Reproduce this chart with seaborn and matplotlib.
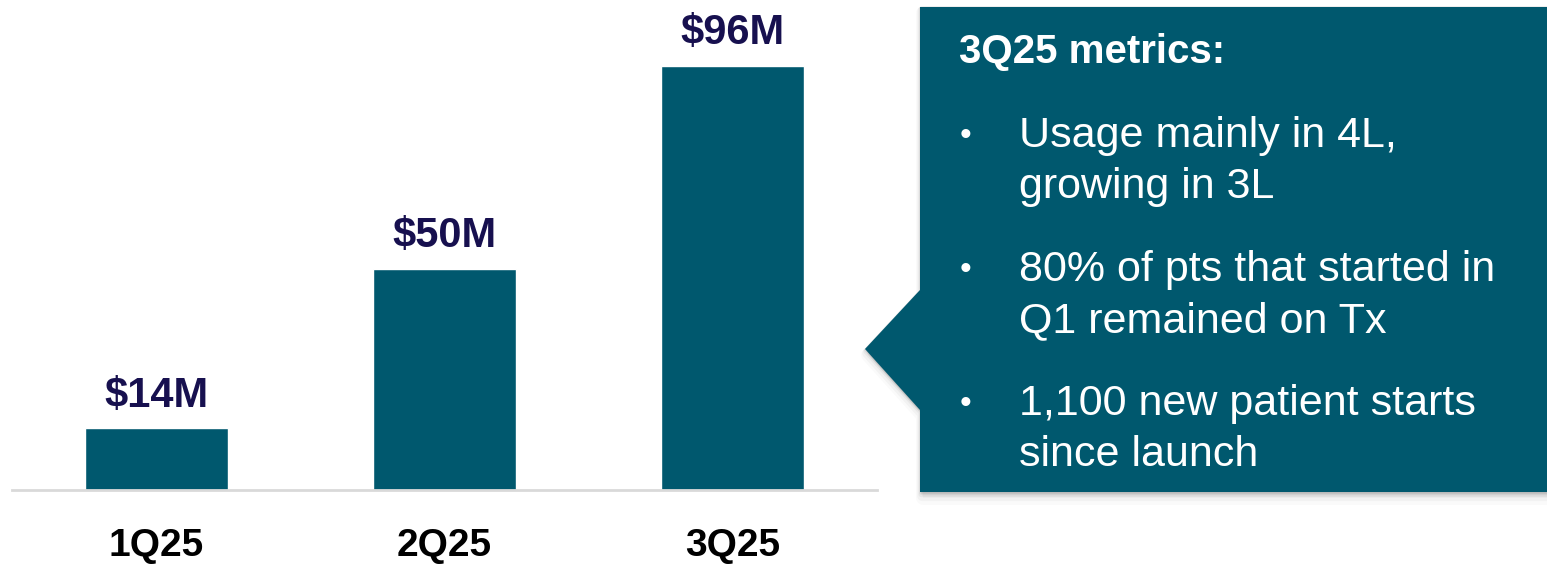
import matplotlib
matplotlib.use("Agg")
import matplotlib.pyplot as plt
from matplotlib.patches import Polygon
import seaborn as sns
import pandas as pd

quarters = ["1Q25", "2Q25", "3Q25"]
revenue_musd = [14, 50, 96]

panel_title = "3Q25 metrics:"
panel_bullets = [
    ["Usage mainly in 4L,", "growing in 3L"],
    ["80% of pts that started in", "Q1 remained on Tx"],
    ["1,100 new patient starts", "since launch"],
]

BAR = "#00586e"
NAVY = "#17104f"

sns.set_theme(style="white")
plt.rcParams["font.family"] = ["Liberation Sans", "DejaVu Sans"]

W, H = 1547, 566
fig = plt.figure(figsize=(W / 100, H / 100), dpi=100)
fig.patch.set_facecolor("white")

# bar chart area
ax = fig.add_axes([12 / W, (H - 490) / H, 865 / W, 490 / H])
df = pd.DataFrame({"quarter": quarters, "revenue": revenue_musd})
sns.barplot(data=df, x="quarter", y="revenue", color=BAR, width=0.495,
            saturation=1, ax=ax, errorbar=None)
ax.set_xlim(-0.5, 2.5)
ax.set_ylim(0, 490 / 4.42)
ax.set_xlabel("")
ax.set_ylabel("")
ax.set_yticks([])
for s in ["top", "right", "left"]:
    ax.spines[s].set_visible(False)
ax.spines["bottom"].set_color("#d9d9d9")
ax.spines["bottom"].set_linewidth(2)
ax.tick_params(axis="x", length=0, pad=27)
for lbl in ax.get_xticklabels():
    lbl.set_fontsize(28)
    lbl.set_fontweight("bold")
    lbl.set_color("black")

for cont in ax.containers:
    ax.bar_label(cont, labels=[f"${v}M" for v in revenue_musd], padding=9,
                 fontsize=30, fontweight="bold", color=NAVY)

# callout panel in pixel coordinates
pan = fig.add_axes([0, 0, 1, 1], zorder=5)
pan.set_xlim(0, W)
pan.set_ylim(H, 0)
pan.axis("off")
pan.patch.set_alpha(0)

shape = [(920, 7), (W, 7), (W, 492), (920, 492), (920, 410), (865, 349), (920, 290)]
for k, a in [(10, 0.02), (7, 0.03), (4, 0.045), (2, 0.055)]:
    sh = [(x + k * 0.3, y + k * 0.6) for x, y in shape]
    pan.add_patch(Polygon(sh, closed=True, facecolor="black", edgecolor="black",
                          lw=k, alpha=a, joinstyle="round"))
pan.add_patch(Polygon(shape, closed=True, facecolor=BAR, edgecolor="none"))

pan.text(959, 52, panel_title, color="white", fontsize=29, fontweight="bold",
         va="center", ha="left")
y0 = 136
for i, lines in enumerate(panel_bullets):
    y = y0 + i * 134
    pan.text(960, y, "•", color="white", fontsize=24, va="center", ha="left")
    for j, line in enumerate(lines):
        pan.text(1019, y + j * 51, line, color="white", fontsize=31,
                 va="center", ha="left")

fig.savefig("out.png", dpi=100, facecolor="white")
